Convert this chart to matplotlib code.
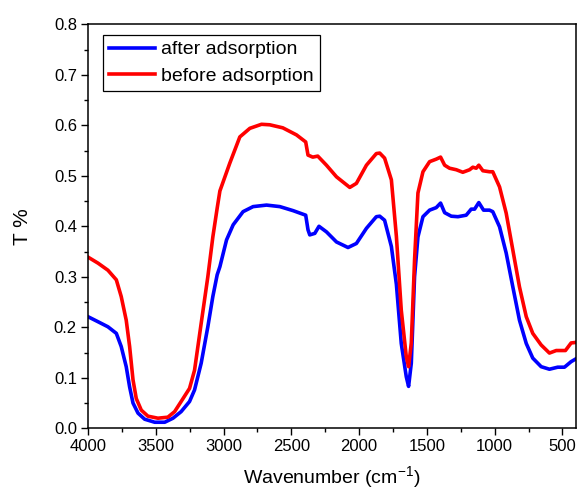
import matplotlib
matplotlib.use("Agg")
import matplotlib.pyplot as plt
from matplotlib.ticker import MultipleLocator

plt.rcParams['font.family'] = ['Liberation Sans', 'DejaVu Sans']
plt.rcParams['mathtext.fontset'] = 'custom'
plt.rcParams['mathtext.rm'] = 'Liberation Sans'

wn_before = [4000, 3926, 3853, 3791, 3755, 3718, 3693, 3668, 3644, 3607, 3558, 3484,
             3411, 3361, 3313, 3251, 3214, 3165, 3116, 3079, 3047, 3027, 2954, 2880,
             2806, 2720, 2659, 2563, 2462, 2394, 2377, 2342, 2305, 2241, 2167, 2069,
             2020, 1946, 1873, 1848, 1812, 1762, 1725, 1689, 1652, 1635, 1615, 1591,
             1566, 1529, 1480, 1431, 1399, 1369, 1333, 1283, 1235, 1185, 1161, 1136,
             1117, 1087, 1038, 1014, 964, 915, 866, 817, 767, 719, 657, 596, 546, 478,
             436, 404]
t_before = [0.339, 0.327, 0.313, 0.294, 0.261, 0.214, 0.162, 0.096, 0.059, 0.036, 0.024, 0.020,
            0.022, 0.033, 0.053, 0.079, 0.115, 0.208, 0.300, 0.379, 0.436, 0.470, 0.525, 0.577,
            0.594, 0.602, 0.601, 0.595, 0.581, 0.567, 0.541, 0.537, 0.539, 0.521, 0.498, 0.477,
            0.485, 0.521, 0.544, 0.545, 0.535, 0.492, 0.380, 0.234, 0.142, 0.122, 0.169, 0.333,
            0.466, 0.508, 0.528, 0.533, 0.537, 0.521, 0.515, 0.512, 0.507, 0.512, 0.517, 0.515,
            0.521, 0.510, 0.508, 0.508, 0.478, 0.426, 0.353, 0.280, 0.221, 0.188, 0.165, 0.149,
            0.154, 0.154, 0.169, 0.170]

wn_after = [4000, 3926, 3853, 3791, 3755, 3718, 3693, 3668, 3631, 3582, 3508, 3434,
            3373, 3313, 3251, 3214, 3165, 3116, 3079, 3047, 3027, 2978, 2929, 2856,
            2782, 2683, 2585, 2487, 2394, 2377, 2364, 2327, 2296, 2241, 2167, 2082,
            2020, 1946, 1873, 1848, 1812, 1762, 1725, 1689, 1652, 1635, 1615, 1591,
            1566, 1529, 1480, 1431, 1399, 1369, 1320, 1271, 1210, 1173, 1148, 1117,
            1082, 1038, 1014, 964, 915, 866, 817, 767, 719, 657, 596, 535, 485, 436, 404]
t_after = [0.221, 0.211, 0.201, 0.188, 0.162, 0.122, 0.082, 0.050, 0.030, 0.018, 0.012, 0.012,
           0.020, 0.033, 0.053, 0.076, 0.129, 0.201, 0.261, 0.304, 0.320, 0.373, 0.403, 0.429,
           0.439, 0.442, 0.439, 0.431, 0.422, 0.393, 0.383, 0.386, 0.400, 0.389, 0.369, 0.358,
           0.366, 0.396, 0.419, 0.420, 0.412, 0.360, 0.285, 0.168, 0.102, 0.083, 0.129, 0.300,
           0.379, 0.419, 0.432, 0.437, 0.446, 0.427, 0.420, 0.419, 0.422, 0.434, 0.434, 0.447,
           0.432, 0.432, 0.429, 0.399, 0.347, 0.280, 0.214, 0.168, 0.139, 0.122, 0.117, 0.121,
           0.121, 0.132, 0.137]

fig = plt.figure(figsize=(5.77, 4.93), dpi=100)
ax = fig.add_axes([88/577, 1-428.3/493, (576/577) - 88/577, (428.3-24.3)/493])

ax.plot(wn_after, t_after, color='#0000ff', lw=2.6, label='after adsorption')
ax.plot(wn_before, t_before, color='#ff0000', lw=2.6, label='before adsorption')

ax.set_xlim(4000, 400)
ax.set_ylim(0.0, 0.8)
ax.xaxis.set_major_locator(MultipleLocator(500))
ax.xaxis.set_minor_locator(MultipleLocator(250))
ax.yaxis.set_major_locator(MultipleLocator(0.1))
ax.yaxis.set_minor_locator(MultipleLocator(0.05))
ax.yaxis.set_major_formatter(matplotlib.ticker.FormatStrFormatter('%.1f'))
ax.tick_params(which='major', direction='out', length=5, width=1.0, labelsize=12, pad=3)
ax.tick_params(which='minor', direction='out', length=3, width=1.0)
ax.tick_params(top=False, right=False, which='both')
for s in ax.spines.values():
    s.set_linewidth(1.1)

ax.set_xlabel('Wavenumber (cm$^{\\mathregular{-1}}$)', fontsize=14, labelpad=7)
ax.set_ylabel('T %', fontsize=15, labelpad=16)

leg = ax.legend(loc='upper left', bbox_to_anchor=(102.7/577, 1-35/493),
                bbox_transform=fig.transFigure, borderaxespad=0, fontsize=14,
                frameon=True, fancybox=False, edgecolor='black', framealpha=1,
                handlelength=2.37, handletextpad=0.35, labelspacing=0.45,
                borderpad=0.3)
leg.get_frame().set_linewidth(0.9)

fig.savefig('out.png', dpi=100)
